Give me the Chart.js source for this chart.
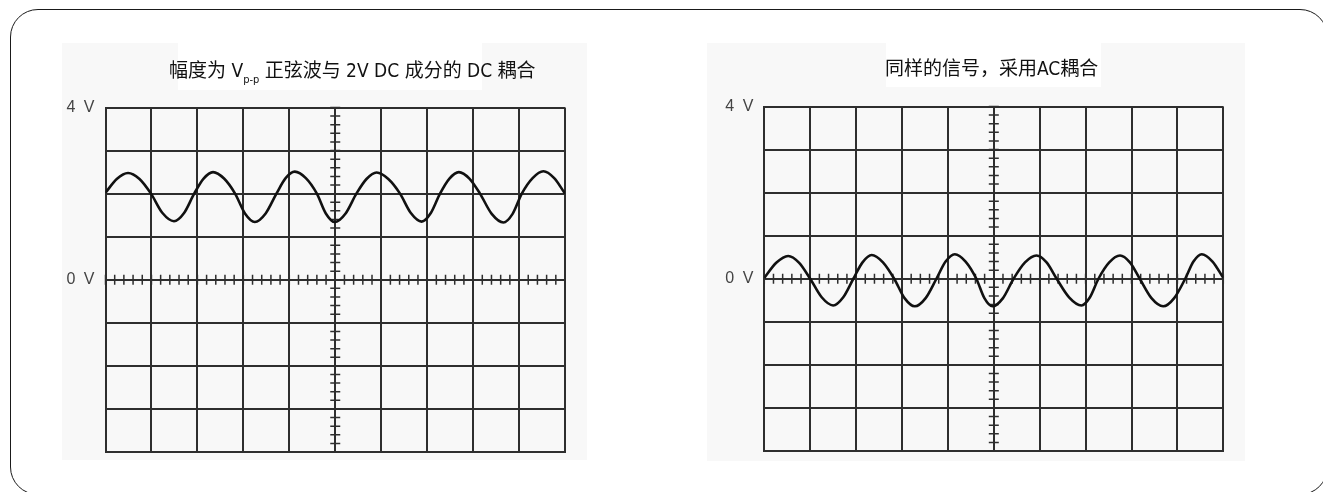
<!DOCTYPE html>
<html lang="zh-CN">
<head>
<meta charset="utf-8">
<title>DC 耦合与 AC 耦合</title>
<script src="https://cdn.jsdelivr.net/npm/chart.js@4.4.1/dist/chart.umd.min.js"></script>
<style>
  html, body { margin: 0; padding: 0; background: #fff; overflow: hidden; }
  body { width: 1323px; height: 492px; position: relative; }
  .marco {
    position: absolute; left: 10px; top: 9px; width: 1318px; height: 486px;
    box-sizing: border-box; border: 1.5px solid #1a1a1a; border-radius: 28px;
  }
  .panel { position: absolute; background: #f8f8f8; }
  .fondoTitulo { position: absolute; background: #fff; }
  canvas { position: absolute; top: 0; }
  .titulo {
    position: absolute; white-space: nowrap; color: #111;
    font-family: "Liberation Sans Narrow", "DejaVu Sans Condensed", "Noto Sans CJK SC", sans-serif;
    font-size: 19px; line-height: 24px;
  }
  .titulo sub { font-size: 11px; vertical-align: -6px; }
</style>
</head>
<body>
<div class="marco"></div>
<div class="panel" style="left:62px;top:43px;width:525px;height:417px"></div>
<div class="panel" style="left:707px;top:43px;width:538px;height:418px"></div>
<div class="fondoTitulo" style="left:178px;top:43px;width:304px;height:47px"></div>
<div class="fondoTitulo" style="left:886px;top:43px;width:215px;height:44px"></div>
<canvas id="GraphDC" width="661" height="492" style="left:0"></canvas>
<canvas id="GraphAC" width="662" height="492" style="left:661px"></canvas>
<div class="titulo" id="tituloDC" style="left:169px;top:58px"></div>
<div class="titulo" id="tituloAC" style="left:885px;top:56px"></div>

<script>
// datos (x en divisiones, y en voltios)
var tiempoDC = [0, 0.245, 0.49, 0.74, 0.99, 1.24, 1.49, 1.71, 1.93, 2.135, 2.34, 2.58,
  2.82, 3.035, 3.25, 3.485, 3.72, 3.92, 4.12, 4.36, 4.6, 4.795, 4.99, 5.225,
  5.46, 5.68, 5.9, 6.155, 6.41, 6.645, 6.88, 7.08, 7.28, 7.485, 7.69, 7.92,
  8.15, 8.405, 8.66, 8.86, 9.06, 9.295, 9.53, 9.765, 10.0];
var voltajeDC = [2.02, 2.34, 2.48, 2.34, 2.0, 1.55, 1.36, 1.55, 2.0, 2.35, 2.5, 2.35,
  2.0, 1.54, 1.34, 1.54, 2.0, 2.36, 2.51, 2.36, 2.0, 1.54, 1.34, 1.54,
  2.0, 2.34, 2.49, 2.34, 2.0, 1.55, 1.35, 1.55, 2.0, 2.35, 2.5, 2.35,
  2.0, 1.53, 1.33, 1.53, 2.0, 2.36, 2.52, 2.36, 2.0];

var tiempoAC = [0, 0.26, 0.52, 0.76, 1.0, 1.25, 1.5, 1.72, 1.94, 2.14, 2.34, 2.585,
  2.83, 3.055, 3.28, 3.515, 3.75, 3.95, 4.15, 4.385, 4.62, 4.795, 4.97, 5.2,
  5.43, 5.68, 5.93, 6.15, 6.37, 6.64, 6.91, 7.095, 7.28, 7.515, 7.75, 7.965,
  8.18, 8.435, 8.69, 8.93, 9.17, 9.35, 9.53, 9.765, 10.0];
var voltajeAC = [0.02, 0.37, 0.53, 0.37, 0, -0.43, -0.62, -0.43, 0, 0.38, 0.55, 0.38,
  0, -0.45, -0.64, -0.45, 0, 0.4, 0.57, 0.4, 0, -0.45, -0.64, -0.45,
  0, 0.38, 0.54, 0.38, 0, -0.43, -0.62, -0.43, 0, 0.38, 0.54, 0.38,
  0, -0.45, -0.64, -0.45, 0, 0.4, 0.57, 0.4, 0.02];

var valoresEtiquetaY = [4, 0];
var textosEtiquetaY = ["4 V", "0 V"];

var tituloDC = ["幅度为 V", "p-p", " 正弦波与 2V DC 成分的 DC 耦合"];
var tituloAC = "同样的信号，采用AC耦合";

var colorRejilla = "#2e2e2e";
var pasoMenor = 0.2;

window.onload = function () {
  console.log("inicio");
  document.getElementById("tituloDC").innerHTML =
    tituloDC[0] + "<sub>" + tituloDC[1] + "</sub>" + tituloDC[2];
  document.getElementById("tituloAC").textContent = tituloAC;

  GraficoOsciloscopio("GraphDC", tiempoDC, voltajeDC,
    { top: 107.5, bottom: 40, left: 0, right: 96 }, 105.5);
  GraficoOsciloscopio("GraphAC", tiempoAC, voltajeAC,
    { top: 106.5, bottom: 41, left: 0, right: 99.7 }, 103.3);
};

// marcas pequenas sobre los ejes centrales
var marcasCentrales = {
  id: "marcasCentrales",
  beforeDatasetsDraw: function (chart) {
    var ctx = chart.ctx;
    var x = chart.scales.x;
    var y = chart.scales.y;
    var cx = x.getPixelForValue((x.min + x.max) / 2);
    var cy = y.getPixelForValue(0);
    ctx.save();
    ctx.strokeStyle = colorRejilla;
    ctx.lineWidth = 1.5;
    ctx.beginPath();
    for (var v = y.min; v <= y.max + 0.001; v += pasoMenor) {
      var py = y.getPixelForValue(v);
      ctx.moveTo(cx - 5, py);
      ctx.lineTo(cx + 5, py);
    }
    for (var t = x.min; t <= x.max + 0.001; t += pasoMenor) {
      var px = x.getPixelForValue(t);
      ctx.moveTo(px, cy - 5);
      ctx.lineTo(px, cy + 5);
    }
    ctx.stroke();
    ctx.restore();
  },
  beforeDraw: function (chart) {
    chart.ctx.letterSpacing = "2px";
  },
};

function GraficoOsciloscopio(idCanvas, tiempos, voltajes, relleno, anchoEjeY) {
  const ctx = document.getElementById(idCanvas);
  var puntos = tiempos.map(function (t, i) {
    return { x: t, y: voltajes[i] };
  });

  window[idCanvas] = new Chart(ctx, {
    type: "line",
    data: {
      datasets: [
        {
          label: "señal",
          data: puntos,
          borderColor: "#111",
          borderWidth: 2.6,
          pointRadius: 0,
          cubicInterpolationMode: "monotone",
          fill: false,
        },
      ],
    },
    plugins: [marcasCentrales],
    options: {
      responsive: false,
      animation: false,
      layout: { padding: relleno },
      plugins: {
        legend: { display: false },
        tooltip: { enabled: false },
      },
      scales: {
        x: {
          type: "linear",
          min: 0,
          max: 10,
          ticks: { display: false, stepSize: 1 },
          grid: { color: colorRejilla, lineWidth: 2, drawTicks: false },
          border: { display: true, color: colorRejilla, width: 2 },
          afterFit: function (escala) {
            escala.height = 0;
          },
        },
        y: {
          min: -4,
          max: 4,
          ticks: {
            stepSize: 1,
            autoSkip: false,
            padding: 9,
            color: "#444",
            font: { family: "Liberation Sans, Arial, sans-serif", size: 16 },
            callback: function (valor) {
              var i = valoresEtiquetaY.indexOf(valor);
              return i >= 0 ? textosEtiquetaY[i] : "";
            },
          },
          grid: { color: colorRejilla, lineWidth: 2, drawTicks: false },
          border: { display: true, color: colorRejilla, width: 2 },
          afterFit: function (escala) {
            escala.width = anchoEjeY;
          },
        },
      },
    },
  });
}
</script>
</body>
</html>
